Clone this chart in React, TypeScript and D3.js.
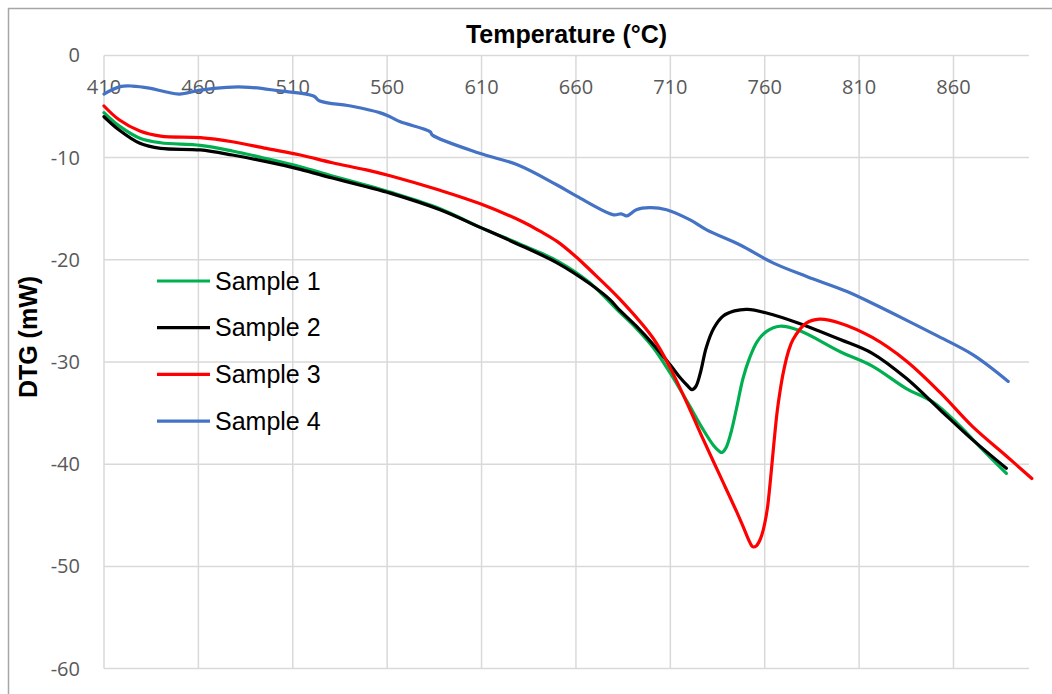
import { useRef, useEffect } from 'react';
import * as d3 from 'd3';

// temperatures (°C) and DTG (mW)
const sample1Temp = [410, 418, 429, 440, 461, 478, 496, 514, 531, 549, 562, 588, 609, 632, 650, 667, 683, 692, 701, 710, 719, 727, 733, 736, 737.5, 739.5, 742, 745, 748.5, 752, 756, 761, 768, 778, 800, 817, 835, 849, 862, 874, 888];
const sample1DTG = [-5.6, -6.9, -8.1, -8.55, -8.8, -9.35, -10.1, -10.9, -11.8, -12.7, -13.4, -15.0, -16.8, -18.6, -20.1, -22.2, -25.1, -26.7, -28.6, -31.1, -33.9, -36.5, -38.2, -38.75, -38.85, -38.4, -37.0, -34.6, -31.6, -29.6, -28.0, -27.0, -26.5, -26.9, -29.0, -30.4, -32.6, -33.9, -36.0, -38.3, -40.9];

const sample2Temp = [410, 418, 429, 440, 461, 478, 496, 514, 531, 549, 562, 588, 609, 632, 650, 667, 678, 683, 692, 701, 710, 715, 719, 721.5, 723.5, 726, 729, 733, 738, 744, 751, 761, 778, 800, 817, 835, 853, 870, 888];
const sample2DTG = [-6.0, -7.3, -8.6, -9.1, -9.25, -9.75, -10.4, -11.15, -12.0, -12.85, -13.5, -15.1, -16.8, -18.7, -20.3, -22.3, -23.9, -24.9, -26.5, -28.3, -30.3, -31.5, -32.3, -32.7, -32.4, -31.0, -28.6, -26.7, -25.5, -25.0, -24.85, -25.2, -26.2, -27.8, -29.15, -31.6, -34.7, -37.6, -40.4];

const sample3Temp = [410, 418, 429, 440, 461, 478, 496, 514, 531, 549, 562, 588, 609, 632, 641, 650, 660.6, 667.5, 683, 701, 710, 720.5, 727, 736, 745, 749, 751.5, 753, 754, 755.5, 757, 758.5, 760, 761.5, 763, 765, 766.5, 768, 770, 772.5, 775, 782, 789, 800, 817, 835, 853, 870, 888, 901.5];
const sample3DTG = [-4.95, -6.3, -7.4, -7.9, -8.05, -8.45, -9.1, -9.75, -10.5, -11.2, -11.8, -13.2, -14.5, -16.3, -17.2, -18.2, -19.8, -21.0, -23.8, -27.7, -30.6, -34.7, -37.4, -41.0, -44.6, -46.3, -47.4, -47.95, -48.1, -48.0, -47.6, -46.9, -45.8, -44.2, -41.6, -37.7, -35.0, -33.0, -30.9, -29.0, -27.8, -26.2, -25.8, -26.2, -27.6, -29.9, -33.0, -36.3, -39.2, -41.4];

const sample4Temp = [410, 418.5, 425, 434, 443, 450, 461, 475, 487, 502, 521, 524, 542, 556, 561.5, 567, 582.7, 584, 609, 629, 650, 660.6, 680, 684, 687, 692, 699, 708, 720.5, 729.5, 747, 764.4, 782.5, 803.6, 817.5, 835, 851, 870.4, 889];
const sample4DTG = [-3.78, -3.06, -3.0, -3.2, -3.58, -3.78, -3.39, -3.12, -3.12, -3.45, -3.97, -4.43, -5.0, -5.6, -6.0, -6.5, -7.46, -7.8, -9.58, -10.7, -12.68, -13.8, -15.6, -15.5, -15.7, -15.1, -14.9, -15.1, -16.1, -17.1, -18.55, -20.3, -21.65, -23.1, -24.3, -25.9, -27.4, -29.3, -31.9];

const seriesNames = ['Sample 1', 'Sample 2', 'Sample 3', 'Sample 4'];
const seriesColors = ['#00b050', '#000000', '#ff0000', '#4472c4'];
const xTicks = [410, 460, 510, 560, 610, 660, 710, 760, 810, 860];
const yTicks = [0, -10, -20, -30, -40, -50, -60];

function App() {
  const svgRef = useRef<SVGSVGElement>(null);
  const width = 1052;
  const height = 694;

  useEffect(() => {
    const svg = d3.select(svgRef.current);
    svg.selectAll('*').remove();

    const plot = { left: 104, right: 1029, top: 55.4, bottom: 668.6 };
    const x = d3.scaleLinear().domain([410, 900]).range([plot.left, plot.right]);
    const y = d3.scaleLinear().domain([-60, 0]).range([plot.bottom, plot.top]);

    // chart border (only top/left visible in the crop)
    svg
      .append('rect')
      .attr('x', 8.5)
      .attr('y', 8.5)
      .attr('width', 1200)
      .attr('height', 900)
      .attr('fill', 'white')
      .attr('stroke', '#a6a6a6')
      .attr('stroke-width', 1.5);

    // gridlines
    svg
      .append('g')
      .selectAll('line')
      .data(yTicks)
      .join('line')
      .attr('x1', plot.left)
      .attr('x2', plot.right)
      .attr('y1', (d) => y(d))
      .attr('y2', (d) => y(d))
      .attr('stroke', '#d9d9d9')
      .attr('stroke-width', 1.5);

    svg
      .append('g')
      .selectAll('line')
      .data(xTicks)
      .join('line')
      .attr('x1', (d) => x(d))
      .attr('x2', (d) => x(d))
      .attr('y1', plot.top)
      .attr('y2', plot.bottom)
      .attr('stroke', '#d9d9d9')
      .attr('stroke-width', 1.5);

    // tick labels
    svg
      .append('g')
      .selectAll('text')
      .data(xTicks)
      .join('text')
      .attr('x', (d) => x(d))
      .attr('y', 87)
      .attr('dy', '0.35em')
      .attr('text-anchor', 'middle')
      .attr('fill', '#595959')
      .style('font-family', '"Open Sans", sans-serif')
      .style('font-size', '20px')
      .text((d) => d);

    svg
      .append('g')
      .selectAll('text')
      .data(yTicks)
      .join('text')
      .attr('x', 80)
      .attr('y', (d) => y(d))
      .attr('dy', '0.35em')
      .attr('text-anchor', 'end')
      .attr('fill', '#595959')
      .style('font-family', '"Open Sans", sans-serif')
      .style('font-size', '20px')
      .text((d) => d);

    // axis titles
    svg
      .append('text')
      .attr('x', (plot.left + plot.right) / 2)
      .attr('y', 43)
      .attr('text-anchor', 'middle')
      .attr('font-weight', '700')
      .style('font-family', '"Liberation Sans", Arial, sans-serif')
      .style('font-size', '25px')
      .text('Temperature (°C)');

    svg
      .append('text')
      .attr('transform', 'translate(37,337) rotate(-90)')
      .attr('text-anchor', 'middle')
      .attr('font-weight', '700')
      .style('font-family', '"Liberation Sans", Arial, sans-serif')
      .style('font-size', '25px')
      .text('DTG (mW)');

    // series
    const temps = [sample1Temp, sample2Temp, sample3Temp, sample4Temp];
    const dtgs = [sample1DTG, sample2DTG, sample3DTG, sample4DTG];
    const series = seriesNames.map((name, i) => ({
      name,
      color: seriesColors[i],
      points: temps[i].map((t, j) => [t, dtgs[i][j]] as [number, number]),
    }));

    const line = d3
      .line<[number, number]>()
      .curve(d3.curveCatmullRom.alpha(0.5))
      .x((d) => x(d[0]))
      .y((d) => y(d[1]));

    // draw order: blue first, then green, black, red on top
    const order = [3, 0, 1, 2];
    svg
      .append('g')
      .selectAll('path')
      .data(order.map((i) => series[i]))
      .join('path')
      .attr('d', (d) => line(d.points))
      .attr('fill', 'none')
      .attr('stroke', (d) => d.color)
      .attr('stroke-width', 3.2)
      .attr('stroke-linejoin', 'round')
      .attr('stroke-linecap', 'round');

    // legend
    const legend = svg
      .append('g')
      .selectAll('g')
      .data(series)
      .join('g')
      .attr('transform', (_, i) => `translate(157,${281 + i * 46.7})`);

    legend
      .append('line')
      .attr('x1', 0)
      .attr('x2', 53)
      .attr('stroke', (d) => d.color)
      .attr('stroke-width', 3.2);

    legend
      .append('text')
      .attr('x', 58)
      .attr('dy', '0.35em')
      .attr('fill', 'black')
      .style('font-family', '"Liberation Sans", Arial, sans-serif')
      .style('font-size', '25px')
      .text((d) => d.name);
  }, []);

  return (
    <svg
      ref={svgRef}
      width={width}
      height={height}
      style={{ position: 'absolute', left: 0, top: 0 }}
    ></svg>
  );
}

export default App;
